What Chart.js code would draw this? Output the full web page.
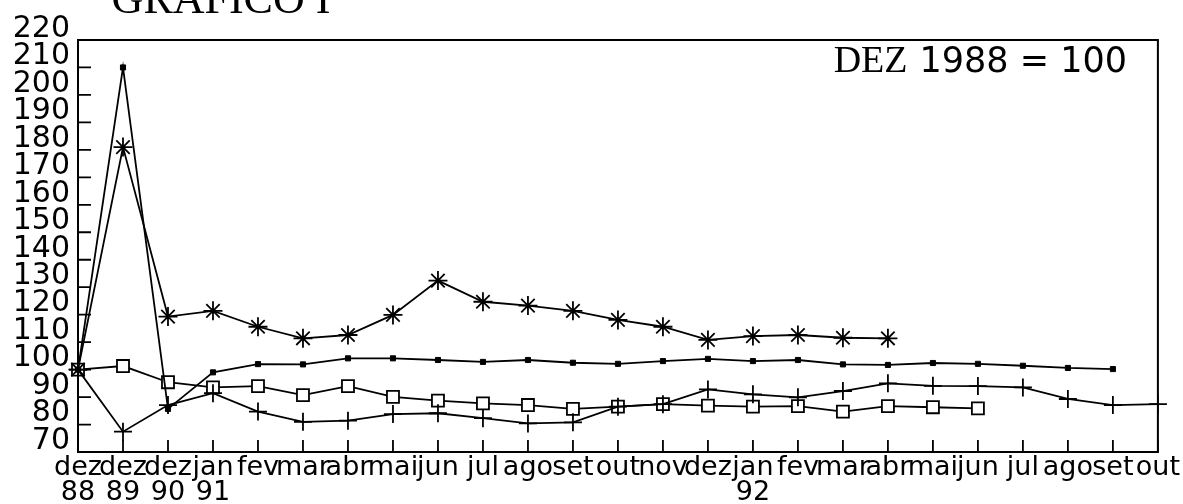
<!DOCTYPE html>
<html>
<head>
<meta charset="utf-8">
<script src="https://cdn.jsdelivr.net/npm/chart.js@4.4.1/dist/chart.umd.min.js"></script>
<style>
  html, body { margin: 0; padding: 0; background: #fff; }
  #wrap { width: 1183px; height: 504px; }
</style>
</head>
<body>
<div id="wrap"><canvas id="chart"></canvas></div>
<script>
// Categories (month + year line)
const months = ['dez', 'dez', 'dez', 'jan', 'fev', 'mar', 'abr', 'mai', 'jun', 'jul', 'ago', 'set', 'out',
                'nov', 'dez', 'jan', 'fev', 'mar', 'abr', 'mai', 'jun', 'jul', 'ago', 'set', 'out'];
const years = ['88', '89', '90', '91', '', '', '', '', '', '', '', '', '',
               '', '', '92', '', '', '', '', '', '', '', '', ''];

const yTicks = [70, 80, 90, 100, 110, 120, 130, 140, 150, 160, 170, 180, 190, 200, 210, 220];

// Series (DEZ 1988 = 100)
const starSeries = [100, 181, 119.3, 121.4, 115.6, 111.4, 112.6, 119.9, 132.4, 124.7, 123.3, 121.4, 118.1,
                    115.6, 110.8, 112.2, 112.6, 111.6, 111.4];
const dotSeries = [100, 210, 85.7, 99.0, 102.0, 101.9, 104.1, 104.1, 103.5, 102.8, 103.5, 102.5, 102.1,
                   103.1, 103.9, 103.1, 103.5, 101.9, 101.7, 102.4, 102.1, 101.4, 100.6, 100.2];
const squareSeries = [100, 101.3, 95.4, 93.5, 94.0, 90.7, 94.0, 90.1, 88.7, 87.7, 87.1, 85.7, 86.5,
                      87.4, 86.9, 86.5, 86.7, 84.7, 86.7, 86.3, 85.9];
const plusSeries = [100, 77.4, 87.1, 91.4, 84.7, 81.0, 81.4, 83.8, 84.1, 82.3, 80.4, 80.8, 86.5,
                    87.4, 92.8, 91.0, 89.9, 92.2, 95.0, 94.1, 94.0, 93.5, 89.3, 87.1, 87.4];

const labels = months.map((m, i) => [m, years[i]]);

const INK = '#000';

function lineSet(data, style) {
    return Object.assign({
        data: data,
        borderColor: INK,
        borderWidth: 1.8,
        tension: 0,
        clip: false,
        pointBorderColor: INK,
        pointHoverRadius: 0
    }, style);
}

// frame box, inward tick stubs, title and note
const framePlugin = {
    id: 'frame',
    beforeDatasetsDraw(chart) {
        const { ctx, chartArea: a, scales } = chart;
        ctx.save();
        ctx.strokeStyle = INK;
        ctx.lineWidth = 2;
        ctx.strokeRect(a.left, a.top, a.right - a.left, a.bottom - a.top);
        ctx.lineWidth = 1.8;
        ctx.beginPath();
        yTicks.forEach(v => {
            const y = scales.y.getPixelForValue(v);
            ctx.moveTo(a.left, y);
            ctx.lineTo(a.left + 13, y);
        });
        months.forEach((m, i) => {
            const x = scales.x.getPixelForValue(i);
            ctx.moveTo(x, a.bottom);
            ctx.lineTo(x, a.bottom - 12);
        });
        ctx.stroke();
        ctx.restore();
    },
    afterDraw(chart) {
        const { ctx } = chart;
        ctx.save();
        ctx.fillStyle = INK;
        ctx.textBaseline = 'alphabetic';
        ctx.textAlign = 'center';
        ctx.font = "44px 'Liberation Serif'";
        ctx.fillText('GRAFICO I', 221, 13);
        ctx.textAlign = 'right';
        ctx.font = "35px 'DejaVu Sans'";
        const num = '1988 = 100';
        ctx.fillText(num, 1127, 72);
        const w = ctx.measureText(num).width;
        ctx.font = "38px 'Liberation Serif'";
        ctx.fillText('DEZ', 1127 - w - 12, 72);
        ctx.restore();
    }
};

new Chart(document.getElementById('chart'), {
    type: 'line',
    data: {
        labels: labels,
        datasets: [
            lineSet(starSeries, { pointStyle: 'star', pointRadius: 9.5, pointBorderWidth: 1.8, pointBackgroundColor: INK }),
            lineSet(dotSeries, { pointStyle: 'rect', pointRadius: 3.6, pointBorderWidth: 1, pointBackgroundColor: INK }),
            lineSet(plusSeries, { pointStyle: 'cross', pointRadius: 9, pointBorderWidth: 1.8, pointBackgroundColor: INK }),
            lineSet(squareSeries, { pointStyle: 'rect', pointRadius: 8.5, pointBorderWidth: 1.8, pointBackgroundColor: '#fff' })
        ]
    },
    options: {
        responsive: true,
        maintainAspectRatio: false,
        animation: false,
        events: [],
        layout: { padding: { top: 40, right: 25, left: 0, bottom: 0 } },
        plugins: {
            legend: { display: false },
            tooltip: { enabled: false }
        },
        scales: {
            x: {
                type: 'category',
                offset: false,
                grid: { display: false, drawTicks: false },
                border: { display: false },
                ticks: {
                    color: INK,
                    autoSkip: false,
                    maxRotation: 0,
                    minRotation: 0,
                    padding: 3,
                    font: { family: "'DejaVu Sans'", size: 27, lineHeight: 0.95 }
                },
                afterFit(scale) { scale.height = 52; }
            },
            y: {
                min: 70,
                max: 220,
                grid: { display: false, drawTicks: false },
                border: { display: false },
                afterBuildTicks(scale) { scale.ticks = yTicks.map(v => ({ value: v })); },
                ticks: {
                    color: INK,
                    autoSkip: false,
                    padding: 8,
                    labelOffset: -11,
                    font: { family: "'DejaVu Sans'", size: 30 }
                },
                afterFit(scale) { scale.width = 78; }
            }
        }
    },
    plugins: [framePlugin]
});
</script>
</body>
</html>
